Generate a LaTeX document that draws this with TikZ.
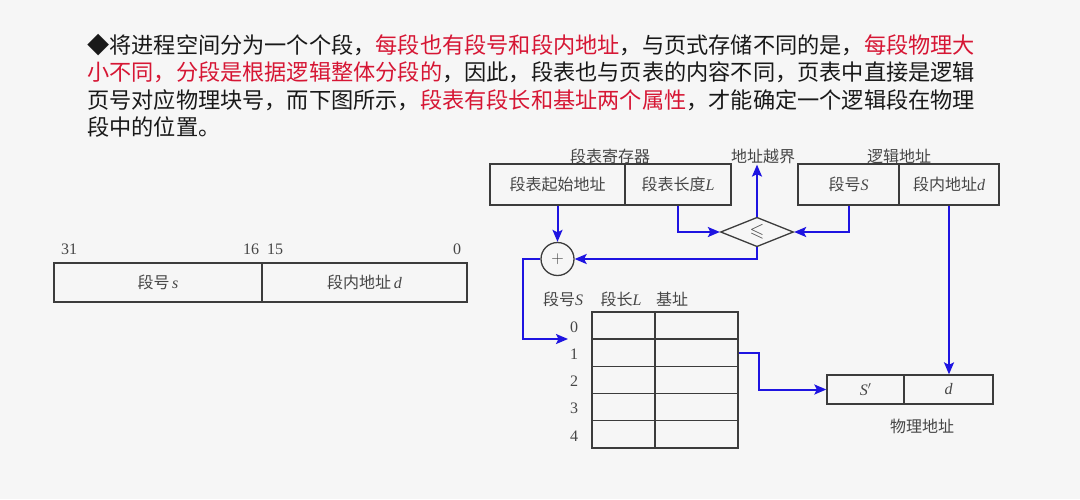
\documentclass[tikz,border=0pt]{standalone}
\usepackage{amssymb}
\usepackage{fontspec}
\setmainfont{Liberation Serif}
\newfontfamily\cjk{Noto Sans CJK SC}
\usetikzlibrary{arrows.meta,shapes.geometric}
\definecolor{bgc}{RGB}{246,246,246}
\definecolor{hred}{RGB}{214,22,52}
\definecolor{txt}{RGB}{25,25,25}
\definecolor{dgray}{RGB}{70,70,70}
\definecolor{lnc}{RGB}{60,60,60}
\definecolor{arrb}{RGB}{30,20,225}
\newcommand\lt[1]{{\rmfamily\itshape #1}}
\newcommand\rd[1]{\textcolor{hred}{#1}}
\tikzset{
  body/.style={anchor=west, inner sep=0pt, text=txt, font=\cjk\fontsize{22.2}{27}\selectfont},
  lab/.style={inner sep=1pt, text=dgray, font=\cjk\fontsize{16}{18}\selectfont},
  num/.style={inner sep=1pt, text=dgray, font=\rmfamily\fontsize{16}{18}\selectfont},
  cell/.style={draw=lnc, line width=1.3pt, inner sep=0pt, text=dgray, font=\cjk\fontsize{16}{18}\selectfont},
  conn/.style={draw=arrb, line width=2pt, -{Stealth[length=12pt,width=10pt,inset=2.5pt]}},
}
\begin{document}
\begin{tikzpicture}[x=1pt,y=-1pt]
\fill[bgc] (0,0) rectangle (1080,499);
\useasboundingbox (0,0) rectangle (1080,499);
% body text
\node[body] (t1) at (87,45) {◆将进程空间分为一个个段，\rd{每段也有段号和段内地址}，与页式存储不同的是，\rd{每段物理大}};
\node[body] (t2) at (87,72.5) {\rd{小不同，分段是根据逻辑整体分段的}，因此，段表也与页表的内容不同，页表中直接是逻辑};
\node[body] (t3) at (87,100) {页号对应物理块号，而下图所示，\rd{段表有段长和基址两个属性}，才能确定一个逻辑段在物理};
\node[body] (t4) at (87,127.5) {段中的位置。};
% left address format
\node[cell, minimum width=208pt, minimum height=39pt] (f1) at (158,282.5) {段号\,\lt{s}};
\node[cell, minimum width=205pt, minimum height=39pt] (f2) at (364.5,282.5) {段内地址\,\lt{d}};
\node[num] (n31) at (69,249) {31};
\node[num] (n16) at (251,249) {16};
\node[num] (n15) at (275,249) {15};
\node[num] (n0) at (457,249) {0};
% segment table register
\node[lab] (regl) at (610,156) {段表寄存器};
\node[cell, minimum width=135pt, minimum height=41pt] (reg1) at (557.5,184.5) {段表起始地址};
\node[cell, minimum width=106pt, minimum height=41pt] (reg2) at (678,184.5) {段表长度\lt{L}};
% logical address
\node[lab] (lgl) at (899,156) {逻辑地址};
\node[cell, minimum width=101pt, minimum height=41pt] (lg1) at (848.5,184.5) {段号\lt{S}};
\node[cell, minimum width=100pt, minimum height=41pt] (lg2) at (949,184.5) {段内地址\lt{d}};
% comparator and adder
\node[lab] (over) at (763,156) {地址越界};
\node[draw=lnc, line width=1.3pt, shape=diamond, inner sep=0pt, minimum width=73pt, minimum height=29pt, text=dgray] (dia) at (757,232) {\fontsize{19}{19}\selectfont$\leqslant$};
\node[draw=lnc, line width=1.3pt, circle, inner sep=0pt, minimum size=33pt, text=dgray] (plus) at (557.5,259) {\fontsize{19}{19}\selectfont$+$};
% segment table
\node[lab] (h1) at (563,299) {段号\lt{S}};
\node[lab] (h2) at (621,299) {段长\lt{L}};
\node[lab] (h3) at (672,299) {基址};
\foreach \i in {0,...,4} {
  \node[cell, minimum width=63pt, minimum height=27.2pt] (l\i) at (623.5,{325.5+27.2*\i}) {};
  \node[cell, minimum width=83pt, minimum height=27.2pt] (b\i) at (696.5,{325.5+27.2*\i}) {};
  \node[num] (r\i) at (574,{327+27.2*\i}) {\i};
}
% physical address
\node[cell, minimum width=77pt, minimum height=29pt] (pa1) at (865.5,389.5) {\lt{S}$'$};
\node[cell, minimum width=89pt, minimum height=29pt] (pa2) at (948.5,389.5) {\lt{d}};
\node[lab] (pal) at (922,426) {物理地址};
% connectors
\coordinate (in0) at (568,339);
\draw[conn] (reg1.south) -- (plus.north);
\draw[conn] (reg2.south) |- (dia.west);
\draw[conn] (lg1.south) |- (dia.east);
\draw[conn] (dia.north) -- (dia.north |- over.south);
\draw[conn] (dia.south) |- (plus.east);
\draw[conn] (plus.west) -- ++(-17,0) |- (in0);
\draw[conn] (b1.east) -- ++(20,0) |- (pa1.west);
\draw[conn] (lg2.south) -- (lg2.south |- pa2.north);
\end{tikzpicture}
\end{document}
